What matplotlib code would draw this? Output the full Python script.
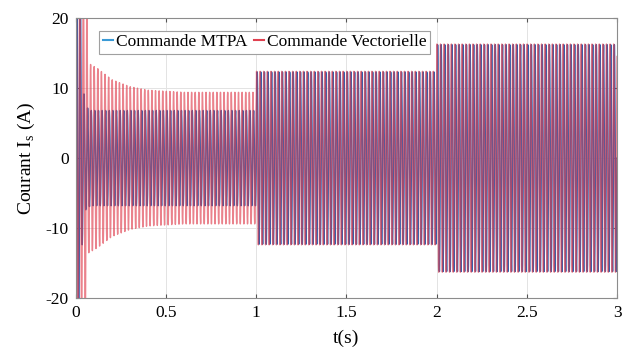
import numpy as np
import matplotlib
matplotlib.use("Agg")
import matplotlib.pyplot as plt

# Stator current envelopes (peak amplitude in A) at given instants (s)
mtpa_env_t = [0.0, 0.024, 0.030, 0.036, 0.050, 0.080, 1.0, 1.0005, 2.0, 2.0005, 3.0]
mtpa_env_a = [28.0, 28.0, 14.0, 12.0, 7.5, 6.8, 6.8, 12.3, 12.3, 16.2, 16.2]

vect_env_t = [0.0, 0.058, 0.066, 0.08, 0.12, 0.2, 0.3, 0.4, 0.6, 1.0, 1.0005, 2.0, 2.0005, 3.0]
vect_env_a = [26.0, 26.0, 13.6, 13.4, 12.8, 11.2, 10.2, 9.7, 9.4, 9.4, 12.4, 12.4, 16.3, 16.3]

freq_hz = 50.0          # electrical frequency of the stator current
mtpa_phase = 0.0
vect_phase = np.pi * 0.35

t = np.linspace(0, 3, 30001)
i_mtpa = np.interp(t, mtpa_env_t, mtpa_env_a) * np.sin(2 * np.pi * freq_hz * t + mtpa_phase)
i_vect = np.interp(t, vect_env_t, vect_env_a) * np.sin(2 * np.pi * freq_hz * t + vect_phase)

plt.rcParams['font.family'] = ['Liberation Serif', 'DejaVu Serif']
plt.rcParams['axes.unicode_minus'] = False

fig = plt.figure(figsize=(6.22, 3.49), dpi=100)
ax = fig.add_axes([0.122, 0.146, 0.870, 0.802])

ax.plot(t, i_mtpa, color='#2e62b0', lw=1.1, label='Commande MTPA')
ax.plot(t, i_vect, color='#e0404f', lw=1.0, alpha=0.65, label='Commande Vectorielle')

ax.set_xlim(0, 3)
ax.set_ylim(-20, 20)
ax.set_xticks([0, 0.5, 1, 1.5, 2, 2.5, 3])
ax.set_xticklabels(['0', '0.5', '1', '1.5', '2', '2.5', '3'])
ax.set_yticks([-20, -10, 0, 10, 20])
ax.grid(True, color='#e3e3e3', lw=0.7)
ax.set_axisbelow(True)
ax.tick_params(direction='in', labelsize=12.5, length=3, pad=5, color='#555555', top=True, right=True,
               labeltop=False, labelright=False)
for s in ax.spines.values():
    s.set_color('#8c8c8c')
    s.set_linewidth(0.8)

ax.set_xlabel('t(s)', fontsize=14, labelpad=6)
ax.set_ylabel(r'Courant I$_{\mathregular{s}}$ (A)', fontsize=14, labelpad=6)

leg = ax.legend(loc='upper left', bbox_to_anchor=(0.043, 0.955), ncol=2, fontsize=12.5,
                handlelength=0.6, handletextpad=0.15, columnspacing=0.4,
                borderpad=0.2, borderaxespad=0.0, fancybox=False, framealpha=1.0)
leg.get_frame().set_edgecolor('#a0a0a0')
leg.get_frame().set_linewidth(0.8)
for h in leg.get_lines():
    h.set_linewidth(1.5)
    h.set_alpha(1.0)
leg.get_lines()[0].set_color('#3a9ad6')

fig.savefig('out.png', dpi=100)
